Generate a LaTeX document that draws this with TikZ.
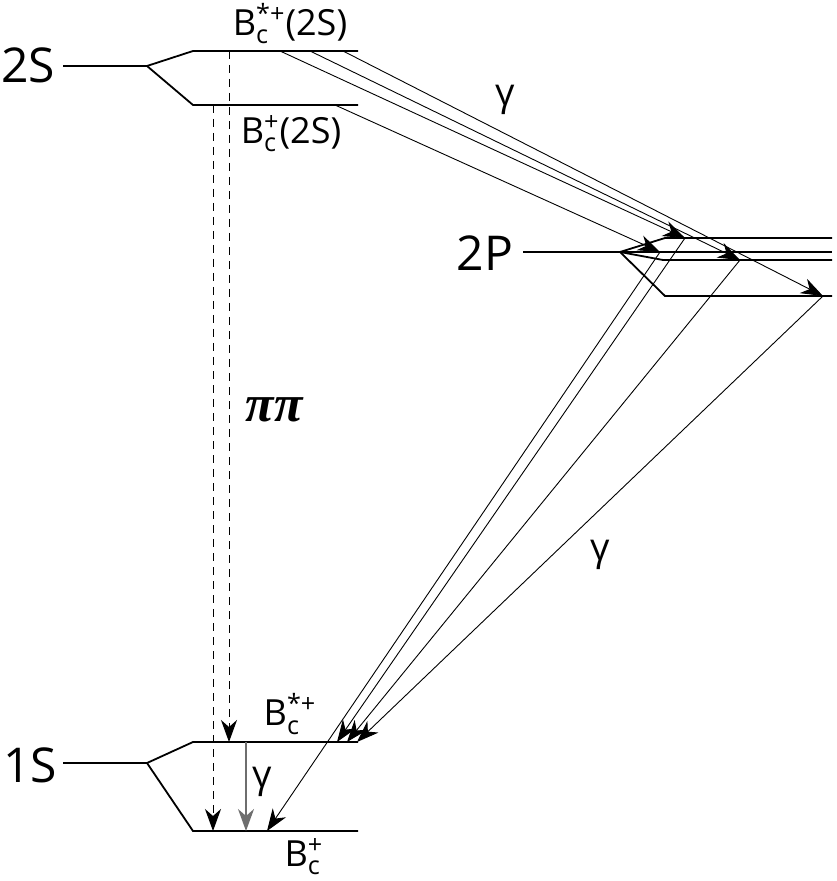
\documentclass[tikz,border=0pt]{standalone}
\usepackage{fontspec}
\setmainfont{Open Sans}
\newfontfamily\pifont{Liberation Serif}
\usepackage{amsmath}
\usetikzlibrary{arrows.meta}
\definecolor{GammaGray}{RGB}{110,110,110}
\newcommand{\Bcst}{B$_{\text{c}}^{\text{*+}}$}
\newcommand{\Bcpl}{B$_{\text{c}}^{\text{+}}$}

\begin{document}
\begin{tikzpicture}[x=0.5pt, y=-0.5pt,
    level/.style={line width=0.9pt},
    trans/.style={line width=0.45pt, -{Stealth[length=11pt, width=8pt, inset=3.5pt]}},
    pipi/.style={line width=0.45pt, dash pattern=on 4pt off 3pt, -{Stealth[length=11pt, width=8pt, inset=3.5pt]}},
    mlabel/.style={font=\fontsize{24}{24}\selectfont},
    slabel/.style={font=\fontsize{18}{18}\selectfont},
    glabel/.style={font=\fontsize{19}{19}\selectfont}]
  \useasboundingbox (0,0) rectangle (836,881);

  % 2S
  \coordinate (l2S) at (63,66);
  \coordinate (v2S) at (147,66);
  \coordinate (Bs2Sl) at (193,51);
  \coordinate (Bs2Sr) at (358,51);
  \coordinate (B2Sl) at (193,105);
  \coordinate (B2Sr) at (358,105);
  \node[mlabel] (lab2S) at (28,65) {2S};
  \draw[level] (l2S) -- (v2S) -- (Bs2Sl) -- (Bs2Sr);
  \draw[level] (v2S) -- (B2Sl) -- (B2Sr);
  \node[slabel] (labBs2S) at (290,24) {\Bcst(2S)};
  \node[slabel] (labB2S) at (291,134) {\Bcpl(2S)};

  % 2P
  \coordinate (l2P) at (523,252);
  \coordinate (v2P) at (620,252);
  \coordinate (P1l) at (665,238);
  \coordinate (P1r) at (832,238);
  \coordinate (P2r) at (832,252);
  \coordinate (P3l) at (663,260);
  \coordinate (P3r) at (832,260);
  \coordinate (P4l) at (665,296);
  \coordinate (P4r) at (832,296);
  \node[mlabel] (lab2P) at (485,253) {2P};
  \draw[level] (l2P) -- (v2P) -- (P1l) -- (P1r);
  \draw[level] (v2P) -- (P2r);
  \draw[level] (v2P) -- (P3l) -- (P3r);
  \draw[level] (v2P) -- (P4l) -- (P4r);

  % 1S
  \coordinate (l1S) at (63,763);
  \coordinate (v1S) at (147,763);
  \coordinate (Bs1Sl) at (193,742);
  \coordinate (Bs1Sr) at (358,742);
  \coordinate (B1Sl) at (193,831);
  \coordinate (B1Sr) at (358,831);
  \node[mlabel] (lab1S) at (30,765) {1S};
  \draw[level] (l1S) -- (v1S) -- (Bs1Sl) -- (Bs1Sr);
  \draw[level] (v1S) -- (B1Sl) -- (B1Sr);
  \node[slabel] (labBs1S) at (290,714) {\Bcst};
  \node[slabel] (labB1S) at (304,857) {\Bcpl};

  % transition points
  \coordinate (a1) at (280,51);
  \coordinate (a2) at (310,51);
  \coordinate (a3) at (343,51);
  \coordinate (a4) at (335,105);
  \coordinate (p1) at (685,238);
  \coordinate (p2) at (660,252);
  \coordinate (p3) at (740,260);
  \coordinate (p4) at (823,296);
  \coordinate (q1) at (337,742);
  \coordinate (q2) at (347,742);
  \coordinate (q3) at (357,742);
  \coordinate (q4) at (267,831);

  % 2S -> 2P
  \draw[trans] (a1) -- (p1);
  \draw[trans] (a2) -- (p3);
  \draw[trans] (a3) -- (p4);
  \draw[trans] (a4) -- (p2);
  % 2P -> 1S
  \draw[trans] (p1) -- (q1);
  \draw[trans] (p3) -- (q2);
  \draw[trans] (p4) -- (q3);
  \draw[trans] (p2) -- (q4);

  % pi pi and M1
  \coordinate (d1t) at (229,51);
  \coordinate (d1b) at (229,742);
  \coordinate (d2t) at (213,105);
  \coordinate (d2b) at (213,831);
  \draw[pipi] (d1t) -- (d1b);
  \draw[pipi] (d2t) -- (d2b);
  \coordinate (m1t) at (246,742);
  \coordinate (m1b) at (246,831);
  \draw[trans, GammaGray, line width=0.6pt] (m1t) -- (m1b);

  \node[font=\pifont\bfseries\itshape\fontsize{26}{26}\selectfont] (labpipi) at (274,410) {ππ};
  \node[glabel] (g1) at (505,100) {γ};
  \node[glabel] (g2) at (600,555) {γ};
  \node[glabel] (g3) at (262,782) {γ};
\end{tikzpicture}
\end{document}
